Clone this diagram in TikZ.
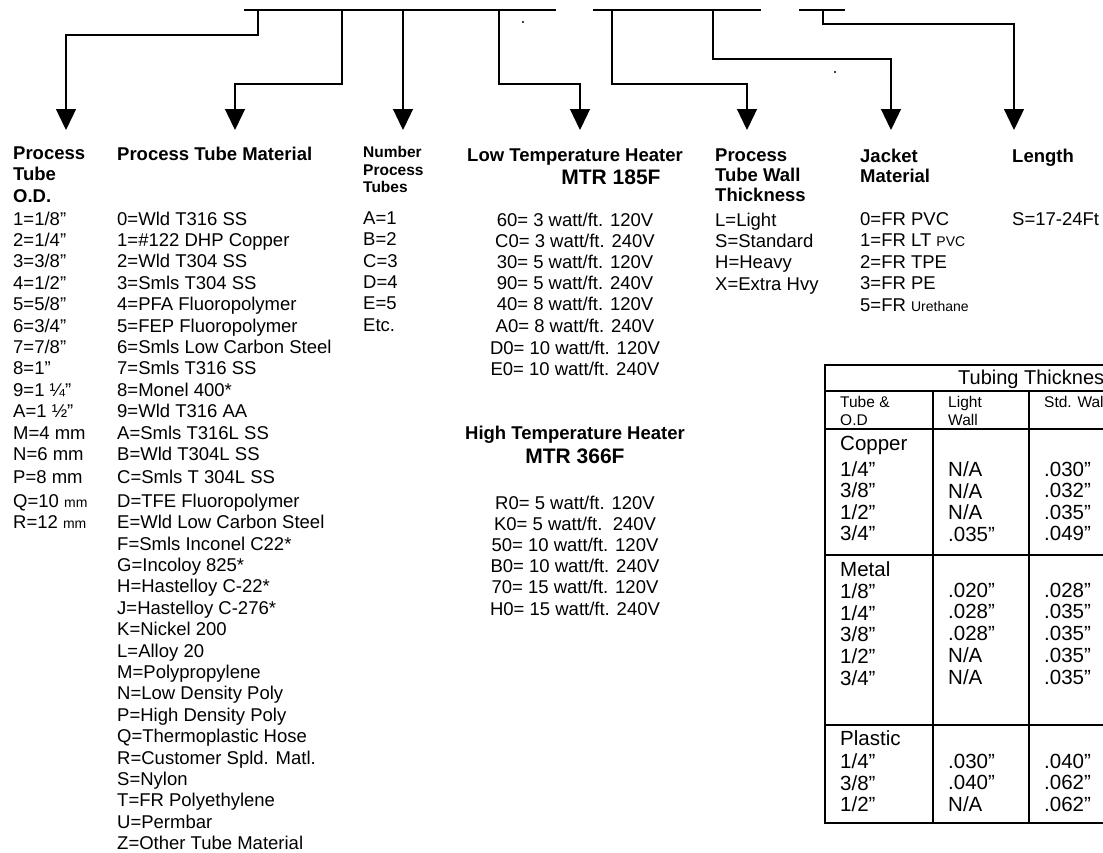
\documentclass[tikz,border=0pt]{standalone}
\usepackage{fontspec}
\setmainfont{Liberation Sans}
\usetikzlibrary{arrows.meta}

\tikzset{
  bar/.style={line width=1.8pt},
  feed/.style={line width=1.3pt, -{Triangle[width=20pt,length=21pt]}},
  keys/.style={anchor=north west, align=left, inner sep=0pt, font=\fontsize{18.5}{21.4}\selectfont},
  keyhd/.style={keys, font=\fontsize{18.5}{21.4}\selectfont\bfseries},
  heat/.style={anchor=north, align=center, inner sep=0pt, font=\fontsize{18.5}{21.2}\selectfont},
  heathd/.style={anchor=base, inner sep=0pt, font=\fontsize{18.5}{21}\selectfont\bfseries},
  model/.style={anchor=base, inner sep=0pt, font=\fontsize{21}{21}\selectfont\bfseries},
  tabline/.style={line width=1.8pt},
  cell/.style={anchor=north west, align=left, inner sep=0pt, font=\fontsize{20.5}{21.5}\selectfont},
  cellhd/.style={anchor=north west, align=left, inner sep=0pt, font=\fontsize{15.5}{18}\selectfont},
}
\newcommand\smu[1]{{\fontsize{14}{14}\selectfont #1}}

\begin{document}
\begin{tikzpicture}[x=1pt,y=-1pt]
\useasboundingbox (0,0) rectangle (1103,852);

% code bars
\draw[bar] (244,10) -- (556,10);
\draw[bar] (593,10) -- (761,10);
\draw[bar] (799,10) -- (845,10);

% feeds down to the columns
\foreach \tx/\lv/\ax [count=\i] in {258/35/66, 342/84/235, 403/84/403, 499/84/580, 612/84/747, 713/59/891, 823/24/1014}{
  \coordinate (tap\i) at (\tx,10);
  \coordinate (tip\i) at (\ax,130);
  \draw[feed] (tap\i) -- (\tx,\lv) -| (tip\i);
}
\fill (523,22) circle (1.2);
\fill (835,72) circle (1.2);

% tube o.d.
\node[keyhd] (odhd) at (13,146.5) {Process\\Tube\\O.D.};
\node[keys] (od) at (13,211.4) {1=1/8”\\2=1/4”\\3=3/8”\\4=1/2”\\5=5/8”\\6=3/4”\\7=7/8”\\8=1”\\9=1 ¼”\\A=1 ½”\\M=4 mm\\N=6 mm\\[2pt]P=8 mm\\[2pt]Q=10 \smu{mm}\\R=12 \smu{mm}};

% tube material
\node[keyhd] (mathd) at (117,146.5) {Process Tube Material};
\node[keys] (mat) at (117,211.4) {0=Wld T316 SS\\1=\#122 DHP Copper\\2=Wld T304 SS\\3=Smls T304 SS\\4=PFA Fluoropolymer\\5=FEP Fluoropolymer\\6=Smls Low Carbon Steel\\7=Smls T316 SS\\8=Monel 400*\\9=Wld T316 AA\\A=Smls T316L SS\\B=Wld T304L SS\\[2pt]C=Smls T 304L SS\\[2pt]D=TFE Fluoropolymer\\E=Wld Low Carbon Steel\\F=Smls Inconel C22*\\G=Incoloy 825*\\H=Hastelloy C-22*\\J=Hastelloy C-276*\\K=Nickel 200\\L=Alloy 20\\M=Polypropylene\\N=Low Density Poly\\P=High Density Poly\\Q=Thermoplastic Hose\\R=Customer Spld. Matl.\\S=Nylon\\T=FR Polyethylene\\U=Permbar\\Z=Other Tube Material};

% number of tubes
\node[keys, font=\fontsize{15.5}{17.5}\selectfont\bfseries] (numhd) at (363,146.5) {Number\\Process\\Tubes};
\node[keys] (num) at (363,211.4) {A=1\\B=2\\C=3\\D=4\\E=5\\Etc.};

% heaters
\node[heathd] (lowhd) at (575,161.6) {Low Temperature Heater};
\node[model] (lowmtr) at (611,184.5) {MTR 185F};
\node[heat] (low) at (575,212.4) {60= 3 watt/ft. 120V\\C0= 3 watt/ft. 240V\\30= 5 watt/ft. 120V\\90= 5 watt/ft. 240V\\40= 8 watt/ft. 120V\\A0= 8 watt/ft. 240V\\[1pt]D0= 10 watt/ft. 120V\\E0= 10 watt/ft. 240V};
\node[heathd] (highhd) at (575,439.6) {High Temperature Heater};
\node[model] (highmtr) at (575,463.5) {MTR 366F};
\node[heat] (high) at (575,495.4) {R0= 5 watt/ft. 120V\\K0= 5 watt/ft.~\ 240V\\50= 10 watt/ft. 120V\\B0= 10 watt/ft. 240V\\70= 15 watt/ft. 120V\\H0= 15 watt/ft. 240V};

% wall thickness
\node[keyhd, font=\fontsize{18.5}{20}\selectfont\bfseries] (wallhd) at (715,148.4) {Process\\Tube Wall\\Thickness};
\node[keys] (wall) at (715,212.4) {L=Light\\S=Standard\\H=Heavy\\X=Extra Hvy};

% jacket
\node[keyhd, font=\fontsize{18.5}{20}\selectfont\bfseries] (jackhd) at (860,148.4) {Jacket\\Material};
\node[keys] (jack) at (860,212.4) {0=FR PVC\\1=FR LT \smu{PVC}\\2=FR TPE\\3=FR PE\\5=FR \smu{Urethane}};

% length
\node[keyhd] (lenhd) at (1012,148.4) {Length};
\node[keys] (len) at (1012,212.4) {S=17-24Ft};

% tubing thickness table
\draw[tabline] (1103,365) -- (825,365) -- (825,823) -- (1103,823);
\foreach \ty in {391,429,555,725}
  \draw[tabline] (825,\ty) -- (1103,\ty);
\draw[tabline] (933,391) -- (933,823);
\draw[tabline] (1029,391) -- (1029,823);

\node[anchor=base west, inner sep=0pt, font=\fontsize{20}{20}\selectfont] (tabhd) at (958,384.2) {Tubing Thicknes};
\node[cellhd] (odcol) at (840,396.5) {Tube \&\\O.D};
\node[cellhd] (lightcol) at (948,396.5) {Light\\Wall};
\node[cellhd] (stdcol) at (1044,396.5) {Std. Wal};

\node[cell] (cu) at (840,435.7) {Copper\\[4.5pt]1/4”\\3/8”\\1/2”\\3/4”};
\node[cell] (culight) at (948,461.7) {N/A\\N/A\\N/A\\.035”};
\node[cell] (custd) at (1044,461.7) {.030”\\.032”\\.035”\\.049”};

\node[cell, font=\fontsize{20.5}{21.7}\selectfont] (met) at (840,561.7) {Metal\\1/8”\\1/4”\\3/8”\\1/2”\\3/4”};
\node[cell, font=\fontsize{20.5}{21.7}\selectfont] (metlight) at (948,582.7) {.020”\\.028”\\.028”\\N/A\\N/A};
\node[cell, font=\fontsize{20.5}{21.7}\selectfont] (metstd) at (1044,582.7) {.028”\\.035”\\.035”\\.035”\\.035”};

\node[cell] (pl) at (840,730.7) {Plastic\\[1.5pt]1/4”\\3/8”\\1/2”};
\node[cell] (pllight) at (948,753.7) {.030”\\.040”\\N/A};
\node[cell] (plstd) at (1044,753.7) {.040”\\.062”\\.062”};
\end{tikzpicture}
\end{document}
